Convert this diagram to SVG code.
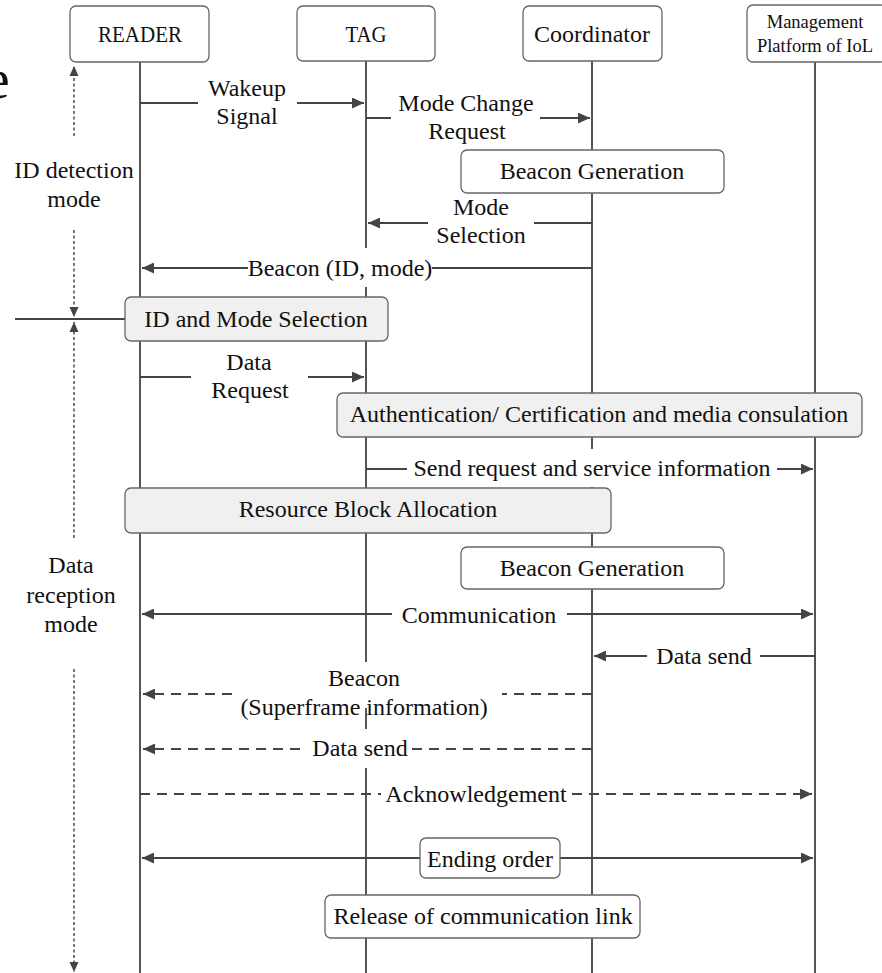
<svg xmlns="http://www.w3.org/2000/svg" width="882" height="973" viewBox="0 0 882 973">
<defs>
<style>
text{font-family:"Liberation Serif","Times New Roman",serif;font-size:24px;fill:#111;text-anchor:middle}
.small{font-size:18.5px}
.life{stroke:#555;stroke-width:2;fill:none}
.msg{stroke:#444;stroke-width:2;fill:none}
.dash{stroke:#444;stroke-width:2;fill:none;stroke-dasharray:10 7}
.dot{stroke:#555;stroke-width:1.6;fill:none;stroke-dasharray:3 2.5}
.box{fill:#fff;stroke:#666;stroke-width:1.3}
.gbox{fill:#f0f0f0;stroke:#666;stroke-width:1.3}
.bg{fill:#fff;stroke:none}
</style>
<marker id="ah" markerUnits="userSpaceOnUse" markerWidth="12" markerHeight="11" refX="12" refY="5.5" orient="auto-start-reverse">
<path d="M0,0 L12,5.5 L0,11 z" fill="#444"/>
</marker>
<marker id="sh" markerUnits="userSpaceOnUse" markerWidth="10" markerHeight="10" refX="10" refY="5" orient="auto-start-reverse">
<path d="M0,0.5 L10,5 L0,9.5 z" fill="#444"/>
</marker>
</defs>
<rect width="882" height="973" fill="#fff"/>

<text x="-16" y="98" style="font-size:58px;text-anchor:start">e</text>

<g id="lifelines">
<line class="life" x1="140" y1="62" x2="140" y2="973"/>
<line class="life" x1="366" y1="61" x2="366" y2="973"/>
<line class="life" x1="592" y1="61" x2="592" y2="973"/>
<line class="life" x1="815" y1="62" x2="815" y2="973"/>
</g>

<g id="participant-reader"><rect class="box" x="70" y="6" width="139" height="56" rx="6"/><text x="140" y="42" textLength="84" lengthAdjust="spacingAndGlyphs">READER</text></g>
<g id="participant-tag"><rect class="box" x="297" y="6" width="138" height="55" rx="6"/><text x="366" y="42" textLength="41" lengthAdjust="spacingAndGlyphs">TAG</text></g>
<g id="participant-coordinator"><rect class="box" x="523" y="6" width="139" height="55" rx="6"/><text x="592" y="42">Coordinator</text></g>
<g id="participant-management"><rect class="box" x="747" y="5" width="140" height="57" rx="6"/><text class="small" x="815" y="28">Management</text><text class="small" x="815" y="52">Platform of IoL</text></g>

<g id="phases">
<line class="dot" x1="74" y1="136" x2="74" y2="66" marker-end="url(#sh)"/>
<text x="74" y="178">ID detection</text>
<text x="74" y="207">mode</text>
<line class="dot" x1="74" y1="230" x2="74" y2="317" marker-end="url(#sh)"/>
<line class="msg" x1="15" y1="319" x2="125" y2="319"/>
<line class="dot" x1="74" y1="538" x2="74" y2="322" marker-end="url(#sh)"/>
<text x="71" y="573">Data</text>
<text x="71" y="603">reception</text>
<text x="71" y="632">mode</text>
<line class="dot" x1="74" y1="669" x2="74" y2="972" marker-end="url(#sh)"/>
</g>

<g id="connectors">
<line class="msg" x1="140" y1="103" x2="198" y2="103"/>
<line class="msg" x1="297" y1="103" x2="364" y2="103" marker-end="url(#ah)"/>
<line class="msg" x1="366" y1="118" x2="391" y2="118"/>
<line class="msg" x1="540" y1="118" x2="590" y2="118" marker-end="url(#ah)"/>
<line class="msg" x1="592" y1="223" x2="534" y2="223"/>
<line class="msg" x1="428" y1="223" x2="368" y2="223" marker-end="url(#ah)"/>
<rect class="bg" x="248" y="248" width="184" height="39"/>
<line class="msg" x1="592" y1="268" x2="432" y2="268"/>
<line class="msg" x1="248" y1="268" x2="142" y2="268" marker-end="url(#ah)"/>
<line class="msg" x1="140" y1="377" x2="191" y2="377"/>
<line class="msg" x1="308" y1="377" x2="364" y2="377" marker-end="url(#ah)"/>
<rect class="bg" x="407" y="449" width="370" height="38"/>
<line class="msg" x1="366" y1="469" x2="407" y2="469"/>
<line class="msg" x1="777" y1="469" x2="813" y2="469" marker-end="url(#ah)"/>
<line class="msg" x1="392" y1="614" x2="142" y2="614" marker-end="url(#ah)"/>
<line class="msg" x1="567" y1="614" x2="813" y2="614" marker-end="url(#ah)"/>
<line class="msg" x1="815" y1="656" x2="760" y2="656"/>
<line class="msg" x1="647" y1="656" x2="594" y2="656" marker-end="url(#ah)"/>
<rect class="bg" x="232" y="662" width="270" height="46"/>
<line class="dash" x1="592" y1="694" x2="502" y2="694"/>
<line class="dash" x1="232" y1="694" x2="143" y2="694" marker-end="url(#ah)"/>
<rect class="bg" x="300" y="729" width="108" height="39"/>
<line class="dash" x1="592" y1="749" x2="408" y2="749"/>
<line class="dash" x1="300" y1="749" x2="143" y2="749" marker-end="url(#ah)"/>
<line class="dash" x1="140" y1="794" x2="381" y2="794"/>
<line class="dash" x1="572" y1="794" x2="812" y2="794" marker-end="url(#ah)"/>
<line class="msg" x1="420" y1="858" x2="142" y2="858" marker-end="url(#ah)"/>
<line class="msg" x1="560" y1="858" x2="813" y2="858" marker-end="url(#ah)"/>
</g>

<g id="labels">
<text x="247" y="96">Wakeup</text>
<text x="247" y="124">Signal</text>
<text x="466" y="111">Mode Change</text>
<text x="467" y="139">Request</text>
<text x="481" y="215">Mode</text>
<text x="481" y="243">Selection</text>
<text x="340" y="276">Beacon (ID, mode)</text>
<text x="249" y="370">Data</text>
<text x="250" y="398">Request</text>
<text x="592" y="476">Send request and service information</text>
<text x="479" y="623">Communication</text>
<text x="704" y="664">Data send</text>
<text x="364" y="686">Beacon</text>
<text x="364" y="715">(Superframe information)</text>
<text x="360" y="756">Data send</text>
<text x="476" y="802">Acknowledgement</text>
</g>

<g id="beacon-generation-1"><rect class="box" x="461" y="150" width="263" height="43" rx="6"/><text x="592" y="179">Beacon Generation</text></g>
<g id="id-mode-selection"><rect class="gbox" x="125" y="297" width="263" height="44" rx="6"/><text x="256" y="327">ID and Mode Selection</text></g>
<g id="authentication"><rect class="gbox" x="337" y="393" width="525" height="44" rx="6"/><text x="599" y="422">Authentication/ Certification and media consulation</text></g>
<g id="resource-block-allocation"><rect class="gbox" x="125" y="488" width="486" height="45" rx="6"/><text x="368" y="517">Resource Block Allocation</text></g>
<g id="beacon-generation-2"><rect class="box" x="461" y="547" width="263" height="42" rx="6"/><text x="592" y="576">Beacon Generation</text></g>
<g id="ending-order"><rect class="box" x="420" y="838" width="140" height="40" rx="6"/><text x="490" y="867">Ending order</text></g>
<g id="release-link"><rect class="box" x="325" y="895" width="315" height="43" rx="6"/><text x="483" y="924">Release of communication link</text></g>
</svg>
